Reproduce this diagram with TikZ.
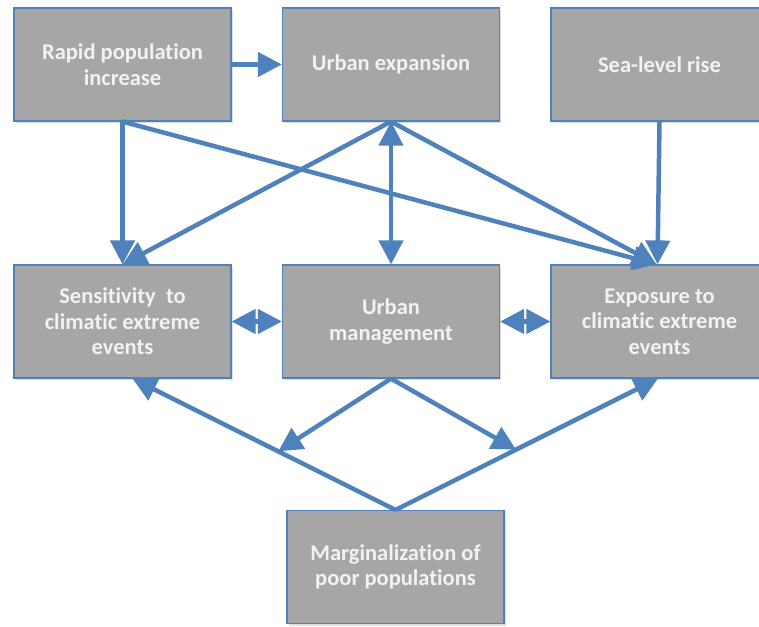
\documentclass[tikz,border=0pt]{standalone}
\usepackage{fontspec}
\setmainfont[Ligatures=NoCommon]{Carlito}
\usetikzlibrary{arrows.meta,calc,shadows}
\definecolor{boxgray}{RGB}{166,166,166}
\definecolor{arrowblue}{RGB}{79,129,189}
\definecolor{txtwhite}{RGB}{242,242,242}
\tikzset{
  box/.style={draw=arrowblue, line width=1.2pt, fill=boxgray, minimum width=217pt, minimum height=113pt,
    align=center, text=txtwhite, font=\fontsize{22.5}{25.5}\selectfont\bfseries,
    drop shadow={shadow xshift=1.5pt, shadow yshift=-2pt, opacity=0.25}},
  conn/.style={draw=arrowblue, line width=4.5pt, -{Triangle[length=24pt,width=24pt]}},
  dconn/.style={draw=arrowblue, line width=4.5pt, {Triangle[length=24pt,width=24pt]}-{Triangle[length=24pt,width=24pt]}},
}
\begin{document}
\begin{tikzpicture}[x=1pt,y=-1pt]
\useasboundingbox (0,0) rectangle (759,626);
\clip (0,0) rectangle (759,626);
\node[box] (A) at (122.5,64.5) {Rapid population\\increase};
\node[box] (B) at (391,64.5) {Urban expansion};
\node[box] (C) at (659.5,64.5) {Sea-level rise};
\node[box] (D) at (122.5,321.5) {Sensitivity\ \ to\\climatic extreme\\events};
\node[box] (E) at (391,321.5) {Urban\\management};
\node[box] (F) at (659.5,321.5) {Exposure to\\climatic extreme\\events};
\node[box] (G) at (395.5,567) {Marginalization of\\poor populations};

\coordinate (Dtip) at ($(D.south)+(10,0)$);
\coordinate (Ftip) at ($(F.south)+(-1.5,0)$);
\coordinate (Ltip) at ($(G.north)!0.446!(Dtip)$);
\coordinate (Rtip) at ($(G.north)!0.459!(Ftip)$);

\draw[conn] (A.east) -- (B.west);
\draw[conn] (A.south) -- (D.north);
\draw[conn] (A.south) -- ($(F.north)+(-3,0)$);
\draw[conn] (B.south) -- (D.north);
\draw[dconn] (B.south) -- (E.north);
\draw[conn] (B.south) -- ($(F.north)+(-3,0)$);
\draw[conn] (C.south) -- ($(F.north)+(-2,0)$);
\draw[dconn] (D.east) -- (E.west);
\draw[dconn] (E.east) -- (F.west);
\draw[conn] (E.south) -- (Ltip);
\draw[conn] (E.south) -- (Rtip);
\draw[conn] (G.north) -- (Dtip);
\draw[conn] (G.north) -- (Ftip);
\end{tikzpicture}
\end{document}
